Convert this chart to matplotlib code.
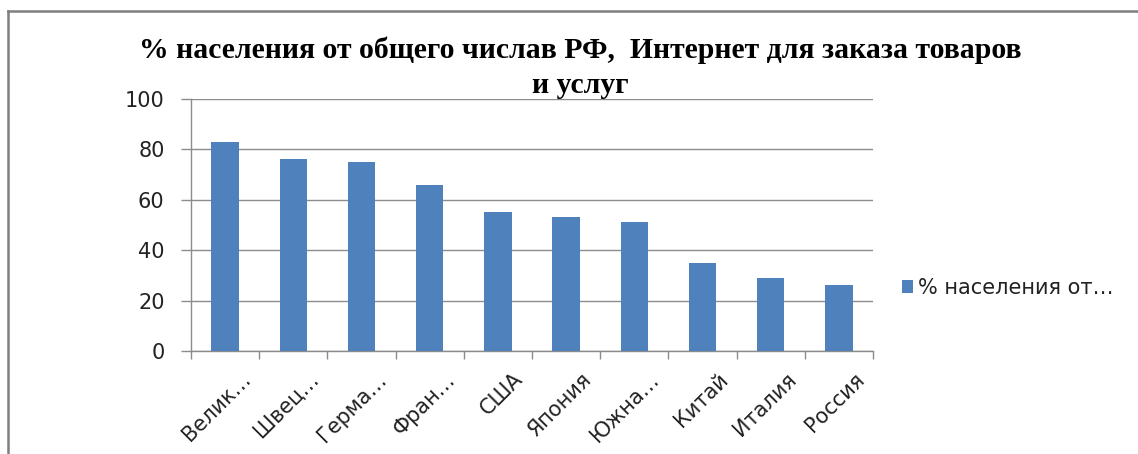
import numpy as np
import matplotlib.pyplot as plt
from matplotlib.lines import Line2D
from matplotlib.transforms import ScaledTranslation

countries = ['Велик…', 'Швец…', 'Герма…', 'Фран…', 'США', 'Япония',
             'Южна…', 'Китай', 'Италия', 'Россия']
share = [83, 76, 75, 66, 55, 53, 51, 35, 29, 26]
series_name = '% населения от…'
title_lines = ['% населения от общего числав РФ,  Интернет для заказа товаров',
               'и услуг']

bar_color = '#4f81bd'
grid_color = '#8c8c8c'

plt.rcParams['font.family'] = ['DejaVu Sans']

fig = plt.figure(figsize=(11.38, 4.54), dpi=100)
ax = fig.add_axes([191 / 1138, 103 / 454, 682 / 1138, 252 / 454])

x = np.arange(len(countries))
ax.bar(x, share, width=0.4, color=bar_color, label=series_name, zorder=3)

ax.set_xlim(-0.5, len(countries) - 0.5)
ax.set_ylim(0, 100)
ax.set_yticks(np.arange(0, 101, 20))
ax.yaxis.grid(True, color=grid_color, linewidth=1.0, zorder=0)
ax.tick_params(axis='y', length=7, width=1.0, color=grid_color,
               labelsize=15, labelcolor='#222222', pad=12)

ax.set_xticks(x)
ax.set_xticklabels(countries, rotation=45, ha='right', rotation_mode='anchor')
ax.set_xticks(np.arange(-0.5, len(countries)), minor=True)
ax.tick_params(axis='x', which='major', length=0, labelsize=15,
               labelcolor='#222222', pad=13)
ax.tick_params(axis='x', which='minor', length=6, width=1.0, color=grid_color)
offset = ScaledTranslation(15 / 100, 0, fig.dpi_scale_trans)
for lbl in ax.get_xticklabels():
    lbl.set_transform(lbl.get_transform() + offset)

for side in ('top', 'right'):
    ax.spines[side].set_visible(False)
for side in ('left', 'bottom'):
    ax.spines[side].set_color(grid_color)
    ax.spines[side].set_linewidth(1.0)

# title drawn as two centred lines
for line, base in zip(title_lines, (58, 93)):
    fig.text(580 / 1138, 1 - base / 454, line, ha='center', va='baseline',
             fontsize=21.4, fontweight='bold', family='Liberation Serif')

fig.legend(loc='center left', bbox_to_anchor=(902 / 1138, 1 - 288 / 454),
           frameon=False, fontsize=15, handlelength=0.55, handleheight=0.55,
           handletextpad=0.2, borderpad=0, borderaxespad=0,
           labelcolor='#222222')

# outer chart frame (left and top edges visible in the crop)
fig.add_artist(Line2D([8 / 1138, 8 / 1138], [0, 1 - 11 / 454],
                      transform=fig.transFigure, color='#7f7f7f', linewidth=1.8))
fig.add_artist(Line2D([8 / 1138, 1], [1 - 11 / 454, 1 - 11 / 454],
                      transform=fig.transFigure, color='#7f7f7f', linewidth=1.8))

fig.savefig('out.png', dpi=100)
